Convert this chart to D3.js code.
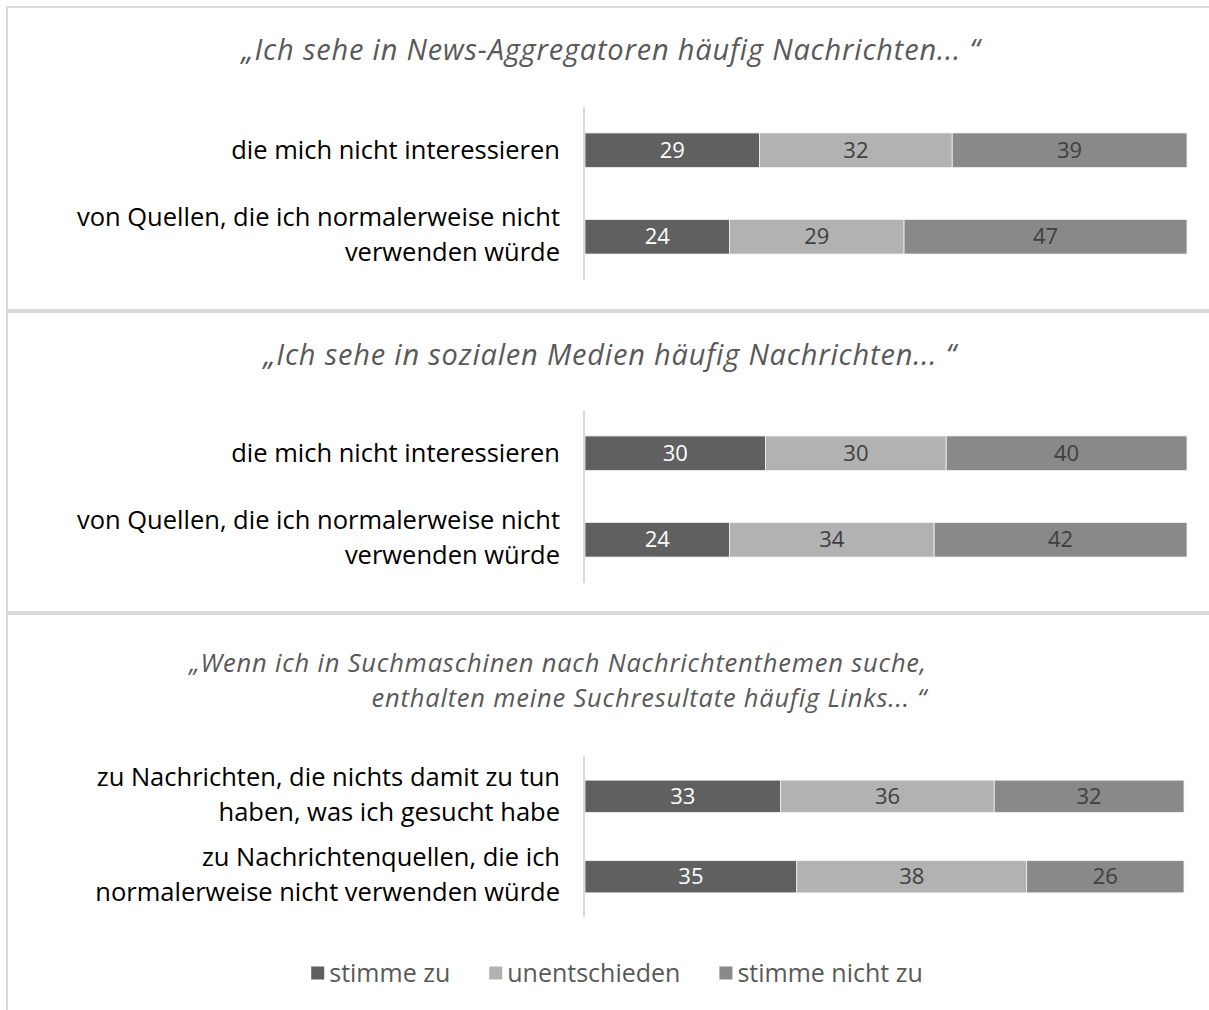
<!DOCTYPE html>
<html>
<head>
<meta charset="utf-8">
<script src="https://cdn.jsdelivr.net/npm/d3@7"></script>
<style>
  body { margin: 0; background: #fff; }
  svg { display: block; }
</style>
</head>
<body>
<svg id="chart"></svg>
<script>
// series (legend order)
const seriesNames = ["stimme zu", "unentschieden", "stimme nicht zu"];
const seriesColors = ["#606060", "#b2b2b2", "#898989"];

// panel 1: news aggregators
const aggTitle = ["„Ich sehe in News-Aggregatoren häufig Nachrichten... “"];
const aggLabels = [["die mich nicht interessieren"], ["von Quellen, die ich normalerweise nicht", "verwenden würde"]];
const aggAgree = [29, 24];
const aggUndecided = [32, 29];
const aggDisagree = [39, 47];

// panel 2: social media
const socialTitle = ["„Ich sehe in sozialen Medien häufig Nachrichten... “"];
const socialLabels = [["die mich nicht interessieren"], ["von Quellen, die ich normalerweise nicht", "verwenden würde"]];
const socialAgree = [30, 24];
const socialUndecided = [30, 34];
const socialDisagree = [40, 42];

// panel 3: search engines
const searchTitle = ["„Wenn ich in Suchmaschinen nach Nachrichtenthemen suche,", "enthalten meine Suchresultate häufig Links... “"];
const searchLabels = [["zu Nachrichten, die nichts damit zu tun", "haben, was ich gesucht habe"], ["zu Nachrichtenquellen, die ich", "normalerweise nicht verwenden würde"]];
const searchAgree = [33, 35];
const searchUndecided = [36, 38];
const searchDisagree = [32, 26];

const W = 1209, H = 1010;
const FONT = "'Open Sans', 'Noto Sans', sans-serif";
const svg = d3.select("#chart").attr("width", W).attr("height", H);

function rows(labels, a, u, d) {
    return labels.map((l, i) => ({
        key: l.join(" "), lines: l,
        [seriesNames[0]]: a[i], [seriesNames[1]]: u[i], [seriesNames[2]]: d[i]
    }));
}

const panels = [
    { box: [7, 7, 1240, 303], title: aggTitle, titleY: 50, titleAnchor: "middle", titleX: 611,
      titleSize: 29, titleSpacing: 0.8,
      data: rows(aggLabels, aggAgree, aggUndecided, aggDisagree), axis: [107, 280], right: 1187 },
    { box: [7, 312, 1240, 300], title: socialTitle, titleY: 355, titleAnchor: "middle", titleX: 610,
      titleSize: 29, titleSpacing: 0.8,
      data: rows(socialLabels, socialAgree, socialUndecided, socialDisagree), axis: [410, 583], right: 1187 },
    { box: [7, 614, 1240, 420], title: searchTitle, titleY: 663, titleAnchor: "end", titleX: 927,
      titleSize: 25.5, titleSpacing: 0.8,
      data: rows(searchLabels, searchAgree, searchUndecided, searchDisagree), axis: [756, 917], right: 1184 }
];

const axisX = 584;
const lineStep = 35;
const stack = d3.stack().keys(seriesNames).offset(d3.stackOffsetExpand);
const color = d3.scaleOrdinal().domain(seriesNames).range(seriesColors);

panels.forEach(p => {
    const g = svg.append("g");

    g.append("rect")
        .attr("x", p.box[0]).attr("y", p.box[1])
        .attr("width", p.box[2]).attr("height", p.box[3])
        .attr("fill", "none").attr("stroke", "#d9d9d9").attr("stroke-width", 2);

    g.selectAll("text.title")
        .data(p.title)
        .join("text")
        .attr("class", "title")
        .attr("x", p.titleX)
        .attr("y", (d, i) => p.titleY + i * lineStep)
        .attr("dy", "0.35em")
        .attr("text-anchor", p.titleAnchor)
        .attr("font-family", FONT)
        .attr("font-style", "italic")
        .attr("font-size", p.titleSize)
        .attr("letter-spacing", p.titleSpacing)
        .attr("fill", "#595959")
        .text(d => d);

    const x = d3.scaleLinear().domain([0, 1]).range([axisX + 1, p.right]);
    const y = d3.scaleBand()
        .domain(p.data.map(d => d.key))
        .range(p.axis)
        .paddingInner(0.6)
        .paddingOuter(0.3);

    const layers = stack(p.data);

    const layer = g.selectAll("g.layer")
        .data(layers)
        .join("g")
        .attr("class", "layer")
        .attr("fill", d => color(d.key));

    layer.selectAll("rect")
        .data(d => d)
        .join("rect")
        .attr("x", d => x(d[0]))
        .attr("y", d => y(d.data.key))
        .attr("width", d => x(d[1]) - x(d[0]))
        .attr("height", y.bandwidth())
        .attr("stroke", "#f2f2f2")
        .attr("stroke-width", 0.8);

    layer.selectAll("text")
        .data(d => d.map(v => ({ v, key: d.key })))
        .join("text")
        .attr("x", d => (x(d.v[0]) + x(d.v[1])) / 2)
        .attr("y", d => y(d.v.data.key) + y.bandwidth() / 2)
        .attr("dy", "0.35em")
        .attr("text-anchor", "middle")
        .attr("font-family", FONT)
        .attr("font-size", 22)
        .attr("fill", d => d.key === seriesNames[0] ? "#ffffff" : "#404040")
        .text(d => d.v.data[d.key]);

    // category labels
    const lab = g.selectAll("text.cat")
        .data(p.data)
        .join("text")
        .attr("class", "cat")
        .attr("text-anchor", "end")
        .attr("font-family", FONT)
        .attr("font-size", 25.5)
        .attr("fill", "#000");
    lab.selectAll("tspan")
        .data(d => d.lines.map((t, i) => ({ t, i, n: d.lines.length, key: d.key })))
        .join("tspan")
        .attr("x", axisX - 24)
        .attr("y", d => y(d.key) + y.bandwidth() / 2 + (d.i - (d.n - 1) / 2) * lineStep + (d.n > 1 ? -2 : 0))
        .attr("dy", "0.35em")
        .text(d => d.t);

    // axis line
    g.append("line")
        .attr("x1", axisX).attr("x2", axisX)
        .attr("y1", p.axis[0]).attr("y2", p.axis[1])
        .attr("stroke", "#d9d9d9").attr("stroke-width", 2);
});

// legend
const legend = svg.append("g");
const items = legend.selectAll("g")
    .data(seriesNames)
    .join("g");
items.append("rect")
    .attr("width", 13).attr("height", 13)
    .attr("y", -6.5)
    .attr("fill", d => color(d));
items.append("text")
    .attr("x", 18)
    .attr("dy", "0.35em")
    .attr("font-family", FONT)
    .attr("font-size", 25)
    .attr("fill", "#595959")
    .text(d => d);

let lx = 0;
items.each(function () {
    const w = 18 + this.querySelector("text").getComputedTextLength();
    d3.select(this).attr("transform", `translate(${lx},0)`);
    lx += w + 39;
});
lx -= 39;
legend.attr("transform", `translate(${617 - lx / 2},973)`);
</script>
</body>
</html>
